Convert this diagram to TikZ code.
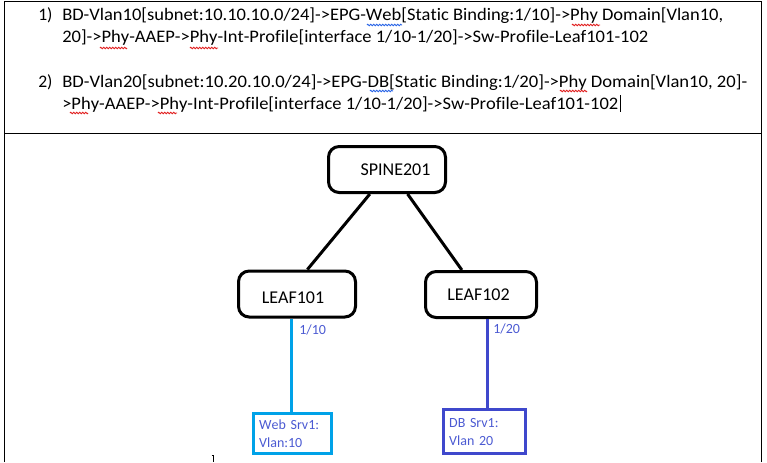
\documentclass[tikz,border=0pt]{standalone}
\usepackage{fontspec}
\usepackage{graphicx}
\setmainfont{Carlito}[Kerning=Off,Ligatures=NoCommon]
\usetikzlibrary{calc,decorations.pathmorphing}
\definecolor{webcyan}{RGB}{0,162,232}
\definecolor{dbblue}{RGB}{63,72,204}
\definecolor{lblblue}{RGB}{75,90,210}
\definecolor{spellred}{RGB}{225,30,30}
\definecolor{gramblue}{RGB}{40,100,230}
% one line of the list, stretched to the width it has on the page (in px)
\newcommand{\cfgline}[2]{\resizebox{#1\dimexpr0.75pt\relax}{\height}{#2}}
\tikzset{
	txt/.style={anchor=base west,inner sep=0pt,font=\fontsize{13.2}{15}\selectfont},
	swbox/.style={draw,line width=2.25pt,rounded corners=8pt,minimum width=87.75pt,minimum height=34.5pt},
	swtext/.style={inner sep=0pt,font=\fontsize{13.5}{16}\selectfont},
	srvbox/.style={draw=#1,line width=2.25pt,align=left,inner xsep=3.75pt,text width=50pt,
		text=lblblue,font=\fontsize{10.5}{13.5}\selectfont},
	port/.style={anchor=west,inner sep=0pt,text=lblblue,font=\fontsize{10.5}{13}\selectfont},
	squig/.style={draw=#1,line width=0.6pt,decorate,decoration={zigzag,segment length=2.25pt,amplitude=0.6pt}}
}
\begin{document}
\begin{tikzpicture}[x=0.75pt,y=-0.75pt]
	\useasboundingbox (0,0) rectangle (767,462);
	% table frame
	\draw[line width=0.75pt] (4,462) -- (4,1) -- (761,1) -- (761,462);
	\draw[line width=0.75pt] (4,133) -- (761,133);
	% config lines
	\node[txt] (n1) at (38,20) {1)};
	\node[txt] (l1) at (62,20) {\cfgline{661}{BD-Vlan10[subnet:10.10.10.0/24]->EPG-Web[Static Binding:1/10]->Phy Domain[Vlan10,}};
	\node[txt] (l2) at (62,42) {\cfgline{586}{20]->Phy-AAEP->Phy-Int-Profile[interface 1/10-1/20]->Sw-Profile-Leaf101-102}};
	\node[txt] (n2) at (38,87) {2)};
	\node[txt] (l3) at (62,87) {\cfgline{685}{BD-Vlan20[subnet:10.20.10.0/24]->EPG-DB[Static Binding:1/20]->Phy Domain[Vlan10, 20]-}};
	\node[txt] (l4) at (62,109) {\cfgline{556}{>Phy-AAEP->Phy-Int-Profile[interface 1/10-1/20]->Sw-Profile-Leaf101-102}};
	\draw[line width=0.6pt] (620,95) -- (620,112);
	% spell check marks
	\draw[squig=gramblue] (367,25) -- (402,25);
	\draw[squig=spellred] (572,25) -- (600,25);
	\draw[squig=spellred] (100,48) -- (127,48);
	\draw[squig=spellred] (190,48) -- (218,48);
	\draw[squig=gramblue] (370,91) -- (393,91);
	\draw[squig=spellred] (560,91) -- (587,91);
	\draw[squig=spellred] (70,113) -- (88,113);
	\draw[squig=spellred] (158,113) -- (177,113);
	% switches
	\node[swbox] (spine) at (387,169.5) {};
	\node[swtext] (spinetxt) at (395.5,170) {SPINE201};
	\node[swbox] (leaf1) at (297,294) {};
	\node[swtext] (leaf1txt) at (293,298) {LEAF101};
	\node[swbox,minimum width=83.25pt] (leaf2) at (481,294.5) {};
	\node[swtext] (leaf2txt) at (478.5,295) {LEAF102};
	\draw[line width=2.25pt] (spine.235) -- (leaf1.67);
	\draw[line width=2.25pt] (spine.310) -- (leaf2.128);
	% servers
	\node[srvbox=webcyan,minimum width=58.5pt,minimum height=30pt] (web) at (292.5,433.5) {Web Srv1:\\Vlan:10};
	\node[srvbox=dbblue,minimum width=61.5pt,minimum height=33pt,text width=53pt] (db) at (484.5,431.5) {DB Srv1:\\Vlan 20};
	\draw[webcyan,line width=2.25pt] (web.north -| 291,0) -- (leaf1.south -| 291,0);
	\draw[dbblue,line width=2.25pt] (db.north -| 487,0) -- (leaf2.south -| 487,0);
	\node[port] (p1) at (299,330) {1/10};
	\node[port] (p2) at (493,329) {1/20};
	\draw[line width=0.6pt] (211.5,455) -- (213.5,455) -- (213.5,462);
\end{tikzpicture}
\end{document}
